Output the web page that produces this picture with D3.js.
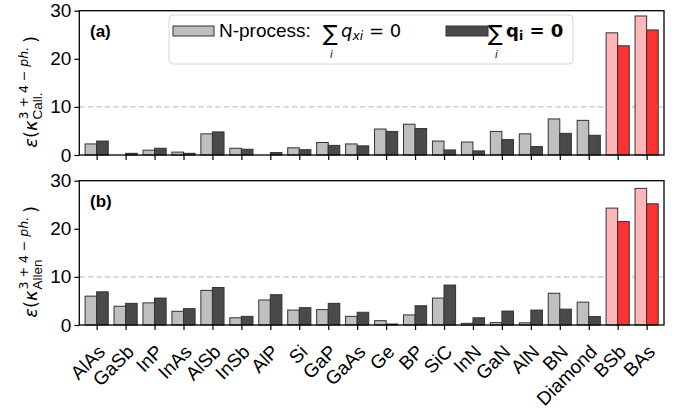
<!DOCTYPE html>
<html>
<head>
<meta charset="utf-8">
<script src="https://cdn.jsdelivr.net/npm/d3@7"></script>
<style>
  html, body { margin: 0; padding: 0; background: #fff; }
  svg { display: block; font-family: "Liberation Sans", Arial, sans-serif; }
</style>
</head>
<body>
<svg id="chart" width="684" height="412"></svg>
<script>
// Materials along the x axis
const categories = ["AlAs", "GaSb", "InP", "InAs", "AlSb", "InSb", "AlP", "Si", "GaP", "GaAs",
  "Ge", "BP", "SiC", "InN", "GaN", "AlN", "BN", "Diamond", "BSb", "BAs"];

// Panel (a): Callaway model error, N-process only vs. full momentum sum
const callN = [2.3, 0.0, 1.0, 0.6, 4.4, 1.4, 0.0, 1.5, 2.6, 2.3, 5.4, 6.4, 2.9, 2.7, 4.9, 4.4, 7.5, 7.2, 25.4, 28.9];
const callQ = [2.9, 0.35, 1.4, 0.35, 4.8, 1.2, 0.5, 1.1, 2.0, 1.9, 4.9, 5.5, 1.05, 0.85, 3.2, 1.75, 4.5, 4.1, 22.7, 26.0];

// Panel (b): Allen model error
const allenN = [6.0, 3.9, 4.6, 2.85, 7.2, 1.5, 5.2, 3.1, 3.2, 1.8, 0.9, 2.1, 5.6, 0.35, 0.5, 0.45, 6.6, 4.75, 24.3, 28.4];
const allenQ = [6.9, 4.5, 5.6, 3.4, 7.8, 1.8, 6.3, 3.6, 4.5, 2.65, 0.2, 4.0, 8.3, 1.5, 2.9, 3.1, 3.3, 1.75, 21.5, 25.2];

const yTicks = [0, 10, 20, 30];
const highlighted = ["BSb", "BAs"];

const svg = d3.select("#chart");
const left = 79.3, right = 664;
const x = d3.scaleLinear().domain([-0.6, 19.6]).range([left, right]);
const barW = 0.4;

const colLightN = "#bfbfbf", colDarkQ = "#4a4a4a";
const colLightHi = "#ffb6b8", colDarkHi = "#ff3333";
const edge = "#333";

function panel(top, bottom, nVals, qVals, tag, subText, showXLabels) {
  const y = d3.scaleLinear().domain([0, 30]).range([bottom, top]);
  const g = svg.append("g");

  // reference line at 10
  g.append("line")
    .attr("x1", left).attr("x2", right)
    .attr("y1", y(10)).attr("y2", y(10))
    .attr("stroke", "#c4c4c4").attr("stroke-width", 1.2)
    .attr("stroke-dasharray", "5.5,3");

  // bars
  categories.forEach((c, i) => {
    const hi = highlighted.includes(c);
    if (nVals[i] > 0) {
      g.append("rect")
        .attr("x", x(i - barW)).attr("width", x(i) - x(i - barW))
        .attr("y", y(nVals[i])).attr("height", y(0) - y(nVals[i]))
        .attr("fill", hi ? colLightHi : colLightN)
        .attr("stroke", edge).attr("stroke-width", 1);
    }
    if (qVals[i] > 0) {
      g.append("rect")
        .attr("x", x(i)).attr("width", x(i + barW) - x(i))
        .attr("y", y(qVals[i])).attr("height", y(0) - y(qVals[i]))
        .attr("fill", hi ? colDarkHi : colDarkQ)
        .attr("stroke", edge).attr("stroke-width", 1);
    }
  });

  // frame
  g.append("rect")
    .attr("x", left).attr("y", top)
    .attr("width", right - left).attr("height", bottom - top)
    .attr("fill", "none").attr("stroke", "#000").attr("stroke-width", 1.3);

  // y axis
  const ya = g.append("g").attr("transform", `translate(${left},0)`)
    .call(d3.axisLeft(y).tickValues(yTicks).tickSize(5).tickPadding(3));
  ya.select(".domain").remove();
  ya.selectAll("line").attr("stroke", "#000").attr("stroke-width", 1.2);
  ya.selectAll("text").attr("font-size", 19).attr("fill", "#000")
    .attr("font-family", "Liberation Sans, Arial, sans-serif");

  // x axis ticks
  const xa = g.append("g").attr("transform", `translate(0,${bottom})`)
    .call(d3.axisBottom(x).tickValues(d3.range(categories.length)).tickSize(5)
      .tickFormat(i => showXLabels ? categories[i] : ""));
  xa.select(".domain").remove();
  xa.selectAll("line").attr("stroke", "#000").attr("stroke-width", 1.2);
  xa.selectAll("text")
    .attr("font-size", 19).attr("fill", "#000")
    .attr("font-family", "Liberation Sans, Arial, sans-serif")
    .attr("text-anchor", "end")
    .attr("x", 0).attr("y", 0).attr("dy", 0)
    .attr("transform", "translate(9,28) rotate(-45)");

  // panel tag
  g.append("text").attr("x", 90).attr("y", top + 26)
    .attr("font-size", 17).attr("font-weight", "bold").text(tag);

  // y label: ε(κ^{3+4−ph.}_{sub})
  const cy = (top + bottom) / 2 + 9;
  const lab = g.append("g").attr("transform", `translate(37,${cy}) rotate(-90)`);
  const mainFont = 18, smallFont = 12.5;
  const t1 = lab.append("text").attr("x", 0).attr("y", 0)
    .attr("font-family", "DejaVu Sans, sans-serif").attr("font-size", mainFont)
    .attr("font-style", "italic");
  t1.append("tspan").text("ε");
  t1.append("tspan").attr("font-style", "normal").text("(");
  t1.append("tspan").text("κ");
  const w1 = t1.node().getComputedTextLength();
  const sup = lab.append("text").attr("x", w1 + 1).attr("y", -9)
    .attr("font-family", "DejaVu Sans, sans-serif").attr("font-size", smallFont);
  sup.append("tspan").text("3 + 4 − ");
  sup.append("tspan").attr("font-style", "italic").text("ph.");
  const sub = lab.append("text").attr("x", w1 + 1).attr("y", 5)
    .attr("font-family", "Liberation Sans, Arial, sans-serif").attr("font-size", smallFont + 1)
    .text(subText);
  const w2 = Math.max(sup.node().getComputedTextLength(), sub.node().getComputedTextLength());
  const t3 = lab.append("text").attr("x", w1 + w2 + 5).attr("y", 0)
    .attr("font-family", "DejaVu Sans, sans-serif").attr("font-size", mainFont).text(")");
  const total = w1 + w2 + 5 + t3.node().getComputedTextLength();
  lab.selectAll("text").attr("transform", `translate(${-total / 2},0)`);
  return y;
}

panel(10.7, 155, callN, callQ, "(a)", "Call.", false);
panel(180.7, 325, allenN, allenQ, "(b)", "Allen", true);

// legend
const lg = svg.append("g");
lg.append("rect").attr("x", 169).attr("y", 15).attr("width", 404).attr("height", 49)
  .attr("rx", 4).attr("fill", "#fff").attr("fill-opacity", 0.85)
  .attr("stroke", "#d6d6d6").attr("stroke-width", 1);
lg.append("rect").attr("x", 173).attr("y", 26).attr("width", 41).attr("height", 10)
  .attr("fill", colLightN).attr("stroke", edge).attr("stroke-width", 1);
lg.append("text").attr("x", 219).attr("y", 36.5).attr("font-size", 19).text("N-process:");
lg.append("text").attr("x", 323).attr("y", 41).attr("font-family", "DejaVu Sans, sans-serif")
  .attr("font-size", 22).text("∑");
lg.append("text").attr("x", 330).attr("y", 57.5).attr("font-family", "DejaVu Sans, sans-serif")
  .attr("font-size", 10).attr("font-style", "italic").text("i");
const lt2 = lg.append("text").attr("x", 341).attr("y", 36.5)
  .attr("font-family", "DejaVu Sans, sans-serif").attr("font-size", 18);
lt2.append("tspan").attr("font-style", "italic").text("q");
lt2.append("tspan").attr("font-style", "italic").attr("font-size", 12.5).attr("dy", 3).text("xi");
lt2.append("tspan").attr("dy", -3).text(" = 0");

lg.append("rect").attr("x", 446).attr("y", 26).attr("width", 42).attr("height", 10)
  .attr("fill", colDarkQ).attr("stroke", edge).attr("stroke-width", 1);
lg.append("text").attr("x", 488).attr("y", 41).attr("font-family", "DejaVu Sans, sans-serif")
  .attr("font-size", 22).text("∑");
lg.append("text").attr("x", 495).attr("y", 57.5).attr("font-family", "DejaVu Sans, sans-serif")
  .attr("font-size", 10).attr("font-style", "italic").text("i");
const lt3 = lg.append("text").attr("x", 506).attr("y", 36.5)
  .attr("font-family", "DejaVu Sans, sans-serif").attr("font-size", 18).attr("font-weight", "bold");
lt3.append("tspan").text("q");
lt3.append("tspan").attr("font-size", 12.5).attr("dy", 3).text("i");
lt3.append("tspan").attr("dy", -3).text(" = 0");
</script>
</body>
</html>
